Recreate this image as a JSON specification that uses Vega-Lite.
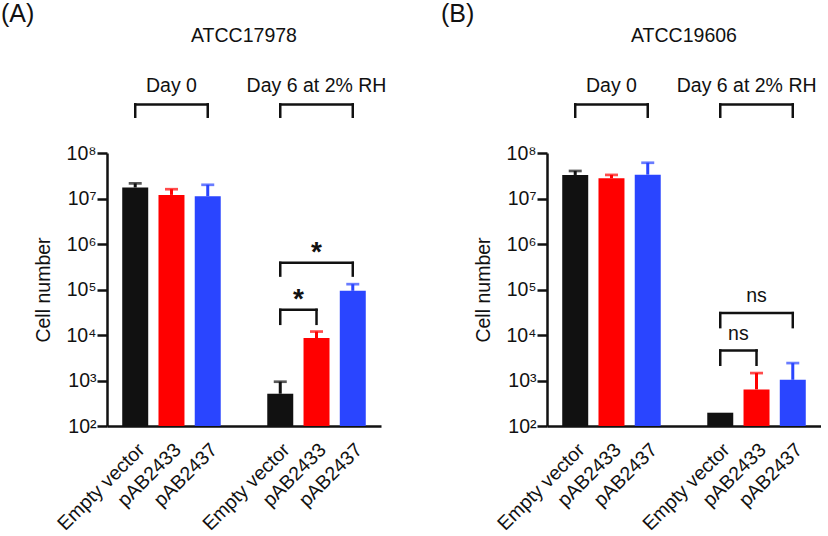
{
  "$schema": "https://vega.github.io/schema/vega-lite/v6.json",
  "padding": {"left": 0, "top": 1, "right": 0, "bottom": 0},
  "spacing": 53,
  "config": {
    "font": "Liberation Sans",
    "view": {"stroke": null},
    "axis": {"labelColor": "#111", "titleColor": "#111", "domainColor": "#111", "tickColor": "#111", "grid": false}
  },
  "datasets": {
    "bars": [
      {"panel": "A", "bar": "0|Empty vector", "strain": "Empty vector", "value": 17500000, "upper": 21500000},
      {"panel": "A", "bar": "0|pAB2433", "strain": "pAB2433", "value": 12000000, "upper": 16000000},
      {"panel": "A", "bar": "0|pAB2437", "strain": "pAB2437", "value": 11200000, "upper": 20000000},
      {"panel": "A", "bar": "6|Empty vector", "strain": "Empty vector", "value": 512, "upper": 940},
      {"panel": "A", "bar": "6|pAB2433", "strain": "pAB2433", "value": 8550, "upper": 11900},
      {"panel": "A", "bar": "6|pAB2437", "strain": "pAB2437", "value": 93500, "upper": 131000},
      {"panel": "B", "bar": "0|Empty vector", "strain": "Empty vector", "value": 32900000, "upper": 40300000},
      {"panel": "B", "bar": "0|pAB2433", "strain": "pAB2433", "value": 27800000, "upper": 33000000},
      {"panel": "B", "bar": "0|pAB2437", "strain": "pAB2437", "value": 33400000, "upper": 61000000},
      {"panel": "B", "bar": "6|Empty vector", "strain": "Empty vector", "value": 196, "upper": null},
      {"panel": "B", "bar": "6|pAB2433", "strain": "pAB2433", "value": 637, "upper": 1456},
      {"panel": "B", "bar": "6|pAB2437", "strain": "pAB2437", "value": 1038, "upper": 2415}
    ],
    "brackets": [
      {"panel": "A", "from": "0|Empty vector", "to": "0|pAB2437", "top": 1170000000, "bottom": 627000000},
      {"panel": "A", "from": "6|Empty vector", "to": "6|pAB2437", "top": 1170000000, "bottom": 627000000},
      {"panel": "A", "from": "6|Empty vector", "to": "6|pAB2433", "top": 35700, "bottom": 17600},
      {"panel": "A", "from": "6|Empty vector", "to": "6|pAB2437", "top": 385000, "bottom": 202000},
      {"panel": "B", "from": "0|Empty vector", "to": "0|pAB2437", "top": 1170000000, "bottom": 627000000},
      {"panel": "B", "from": "6|Empty vector", "to": "6|pAB2437", "top": 1170000000, "bottom": 627000000},
      {"panel": "B", "from": "6|Empty vector", "to": "6|pAB2433", "top": 4570, "bottom": 2220},
      {"panel": "B", "from": "6|Empty vector", "to": "6|pAB2437", "top": 30300, "bottom": 14900}
    ],
    "labels": [
      {"panel": "A", "kind": "center", "at": "gap", "y": 37700000000, "text": "ATCC17978"},
      {"panel": "A", "kind": "center", "at": "0|pAB2433", "y": 2960000000, "text": "Day 0"},
      {"panel": "A", "kind": "center", "at": "6|pAB2433", "y": 2960000000, "text": "Day 6 at 2% RH"},
      {"panel": "A", "kind": "center", "at": "6|pAB2433", "y": 638000, "text": "*"},
      {"panel": "A", "kind": "between", "at": "6|Empty vector", "y": 59400, "text": "*"},
      {"panel": "B", "kind": "center", "at": "gap", "y": 37700000000, "text": "ATCC19606"},
      {"panel": "B", "kind": "center", "at": "0|pAB2433", "y": 2960000000, "text": "Day 0"},
      {"panel": "B", "kind": "left", "at": "6|pAB2433", "y": 2960000000, "text": "Day 6 at 2% RH"},
      {"panel": "B", "kind": "center", "at": "6|pAB2433", "y": 73600, "text": "ns"},
      {"panel": "B", "kind": "between", "at": "6|Empty vector", "y": 10600, "text": "ns"}
    ]
  },
  "hconcat": [
    {
      "width": 274,
      "height": 273,
      "title": {"text": "(A)", "anchor": "start", "frame": "bounds", "fontSize": 25, "fontWeight": "normal", "offset": -21, "dx": -33, "baseline": "alphabetic", "color": "#111"},
      "layer": [
        {
          "data": {"name": "bars"},
          "transform": [{"filter": "datum.panel === 'A'"}],
          "mark": {"type": "bar"},
          "encoding": {
            "x": {"field": "bar", "type": "nominal", "sort": null,
              "scale": {"type": "band", "domain": ["0|Empty vector", "0|pAB2433", "0|pAB2437", "gap", "6|Empty vector", "6|pAB2433", "6|pAB2437"], "paddingInner": 0.2833, "paddingOuter": 0.42},
              "axis": {"title": null, "labelAngle": -45, "labelAlign": "right", "labelBaseline": "top", "ticks": false, "domainWidth": 2.5, "labelFontSize": 19.5, "labelPadding": 14, "labelExpr": "indexof(datum.value, '|') > 0 ? split(datum.value, '|')[1] : ''"}},
            "y": {"field": "value", "type": "quantitative",
              "scale": {"type": "log", "domain": [100, 100000000], "nice": false},
              "axis": {"values": [100, 1000, 10000, 100000, 1000000, 10000000, 100000000], "labelExpr": "'10' + ['⁰','¹','²','³','⁴','⁵','⁶','⁷','⁸'][round(log(datum.value) / LN10)]", "tickSize": 10, "tickWidth": 2.5, "domainWidth": 2.5, "labelFontSize": 19.5, "labelPadding": 1, "title": "Cell number", "titleFontSize": 19.5, "titleFontWeight": "normal", "titlePadding": 12}},
            "y2": {"datum": 100},
            "color": {"field": "strain", "type": "nominal", "scale": {"domain": ["Empty vector", "pAB2433", "pAB2437"], "range": ["#111111", "#ff0000", "#2a45ff"]}, "legend": null}
          }
        },
        {
          "data": {"name": "bars"},
          "transform": [{"filter": "datum.panel === 'A' && datum.upper != null"}],
          "mark": {"type": "rule", "strokeWidth": 3},
          "encoding": {
            "x": {"field": "bar", "type": "nominal"},
            "y": {"field": "value", "type": "quantitative"},
            "y2": {"field": "upper"},
            "color": {"field": "strain", "type": "nominal", "legend": null}
          }
        },
        {
          "data": {"name": "bars"},
          "transform": [{"filter": "datum.panel === 'A' && datum.upper != null"}],
          "mark": {"type": "tick", "size": 13, "thickness": 2.7},
          "encoding": {
            "x": {"field": "bar", "type": "nominal"},
            "y": {"field": "upper", "type": "quantitative"},
            "color": {"field": "strain", "type": "nominal", "legend": null}
          }
        },
        {
          "data": {"name": "brackets"},
          "transform": [{"filter": "datum.panel === 'A'"}],
          "mark": {"type": "rule", "strokeWidth": 2.5, "color": "#111", "strokeCap": "square"},
          "encoding": {"x": {"field": "from", "type": "nominal"}, "x2": {"field": "to"}, "y": {"field": "top", "type": "quantitative"}}
        },
        {
          "data": {"name": "brackets"},
          "transform": [{"filter": "datum.panel === 'A'"}],
          "mark": {"type": "rule", "strokeWidth": 2.5, "color": "#111", "strokeCap": "square"},
          "encoding": {"x": {"field": "from", "type": "nominal"}, "y": {"field": "bottom", "type": "quantitative"}, "y2": {"field": "top"}}
        },
        {
          "data": {"name": "brackets"},
          "transform": [{"filter": "datum.panel === 'A'"}],
          "mark": {"type": "rule", "strokeWidth": 2.5, "color": "#111", "strokeCap": "square"},
          "encoding": {"x": {"field": "to", "type": "nominal"}, "y": {"field": "bottom", "type": "quantitative"}, "y2": {"field": "top"}}
        },
        {
          "data": {"name": "labels"},
          "transform": [{"filter": "datum.panel === 'A' && datum.kind === 'center'"}],
          "mark": {"type": "text", "color": "#111", "baseline": "middle", "fontSize": {"expr": "datum.text === '*' ? 28 : 19.5"}, "fontWeight": {"expr": "datum.text === '*' ? 'bold' : 'normal'"}},
          "encoding": {"x": {"field": "at", "type": "nominal"}, "y": {"field": "y", "type": "quantitative"}, "text": {"field": "text"}}
        },
        {
          "data": {"name": "labels"},
          "transform": [{"filter": "datum.panel === 'A' && datum.kind === 'between'"}],
          "mark": {"type": "text", "color": "#111", "baseline": "middle", "fontSize": {"expr": "datum.text === '*' ? 28 : 19.5"}, "fontWeight": {"expr": "datum.text === '*' ? 'bold' : 'normal'"}},
          "encoding": {"x": {"field": "at", "type": "nominal", "bandPosition": 1.198}, "y": {"field": "y", "type": "quantitative"}, "text": {"field": "text"}}
        }
      ]
    },
    {
      "width": 274,
      "height": 273,
      "title": {"text": "(B)", "anchor": "start", "frame": "bounds", "fontSize": 25, "fontWeight": "normal", "offset": -21, "dx": -33, "baseline": "alphabetic", "color": "#111"},
      "layer": [
        {
          "data": {"name": "bars"},
          "transform": [{"filter": "datum.panel === 'B'"}],
          "mark": {"type": "bar"},
          "encoding": {
            "x": {"field": "bar", "type": "nominal", "sort": null,
              "scale": {"type": "band", "domain": ["0|Empty vector", "0|pAB2433", "0|pAB2437", "gap", "6|Empty vector", "6|pAB2433", "6|pAB2437"], "paddingInner": 0.2833, "paddingOuter": 0.42},
              "axis": {"title": null, "labelAngle": -45, "labelAlign": "right", "labelBaseline": "top", "ticks": false, "domainWidth": 2.5, "labelFontSize": 19.5, "labelPadding": 14, "labelExpr": "indexof(datum.value, '|') > 0 ? split(datum.value, '|')[1] : ''"}},
            "y": {"field": "value", "type": "quantitative",
              "scale": {"type": "log", "domain": [100, 100000000], "nice": false},
              "axis": {"values": [100, 1000, 10000, 100000, 1000000, 10000000, 100000000], "labelExpr": "'10' + ['⁰','¹','²','³','⁴','⁵','⁶','⁷','⁸'][round(log(datum.value) / LN10)]", "tickSize": 10, "tickWidth": 2.5, "domainWidth": 2.5, "labelFontSize": 19.5, "labelPadding": 1, "title": "Cell number", "titleFontSize": 19.5, "titleFontWeight": "normal", "titlePadding": 12}},
            "y2": {"datum": 100},
            "color": {"field": "strain", "type": "nominal", "scale": {"domain": ["Empty vector", "pAB2433", "pAB2437"], "range": ["#111111", "#ff0000", "#2a45ff"]}, "legend": null}
          }
        },
        {
          "data": {"name": "bars"},
          "transform": [{"filter": "datum.panel === 'B' && datum.upper != null"}],
          "mark": {"type": "rule", "strokeWidth": 3},
          "encoding": {
            "x": {"field": "bar", "type": "nominal"},
            "y": {"field": "value", "type": "quantitative"},
            "y2": {"field": "upper"},
            "color": {"field": "strain", "type": "nominal", "legend": null}
          }
        },
        {
          "data": {"name": "bars"},
          "transform": [{"filter": "datum.panel === 'B' && datum.upper != null"}],
          "mark": {"type": "tick", "size": 13, "thickness": 2.7},
          "encoding": {
            "x": {"field": "bar", "type": "nominal"},
            "y": {"field": "upper", "type": "quantitative"},
            "color": {"field": "strain", "type": "nominal", "legend": null}
          }
        },
        {
          "data": {"name": "brackets"},
          "transform": [{"filter": "datum.panel === 'B'"}],
          "mark": {"type": "rule", "strokeWidth": 2.5, "color": "#111", "strokeCap": "square"},
          "encoding": {"x": {"field": "from", "type": "nominal"}, "x2": {"field": "to"}, "y": {"field": "top", "type": "quantitative"}}
        },
        {
          "data": {"name": "brackets"},
          "transform": [{"filter": "datum.panel === 'B'"}],
          "mark": {"type": "rule", "strokeWidth": 2.5, "color": "#111", "strokeCap": "square"},
          "encoding": {"x": {"field": "from", "type": "nominal"}, "y": {"field": "bottom", "type": "quantitative"}, "y2": {"field": "top"}}
        },
        {
          "data": {"name": "brackets"},
          "transform": [{"filter": "datum.panel === 'B'"}],
          "mark": {"type": "rule", "strokeWidth": 2.5, "color": "#111", "strokeCap": "square"},
          "encoding": {"x": {"field": "to", "type": "nominal"}, "y": {"field": "bottom", "type": "quantitative"}, "y2": {"field": "top"}}
        },
        {
          "data": {"name": "labels"},
          "transform": [{"filter": "datum.panel === 'B' && datum.kind === 'center'"}],
          "mark": {"type": "text", "color": "#111", "baseline": "middle", "fontSize": {"expr": "datum.text === '*' ? 28 : 19.5"}, "fontWeight": {"expr": "datum.text === '*' ? 'bold' : 'normal'"}},
          "encoding": {"x": {"field": "at", "type": "nominal"}, "y": {"field": "y", "type": "quantitative"}, "text": {"field": "text"}}
        },
        {
          "data": {"name": "labels"},
          "transform": [{"filter": "datum.panel === 'B' && datum.kind === 'left'"}],
          "mark": {"type": "text", "color": "#111", "baseline": "middle", "fontSize": 19.5},
          "encoding": {"x": {"field": "at", "type": "nominal", "bandPosition": 0.12}, "y": {"field": "y", "type": "quantitative"}, "text": {"field": "text"}}
        },
        {
          "data": {"name": "labels"},
          "transform": [{"filter": "datum.panel === 'B' && datum.kind === 'between'"}],
          "mark": {"type": "text", "color": "#111", "baseline": "middle", "fontSize": {"expr": "datum.text === '*' ? 28 : 19.5"}, "fontWeight": {"expr": "datum.text === '*' ? 'bold' : 'normal'"}},
          "encoding": {"x": {"field": "at", "type": "nominal", "bandPosition": 1.198}, "y": {"field": "y", "type": "quantitative"}, "text": {"field": "text"}}
        }
      ]
    }
  ]
}
